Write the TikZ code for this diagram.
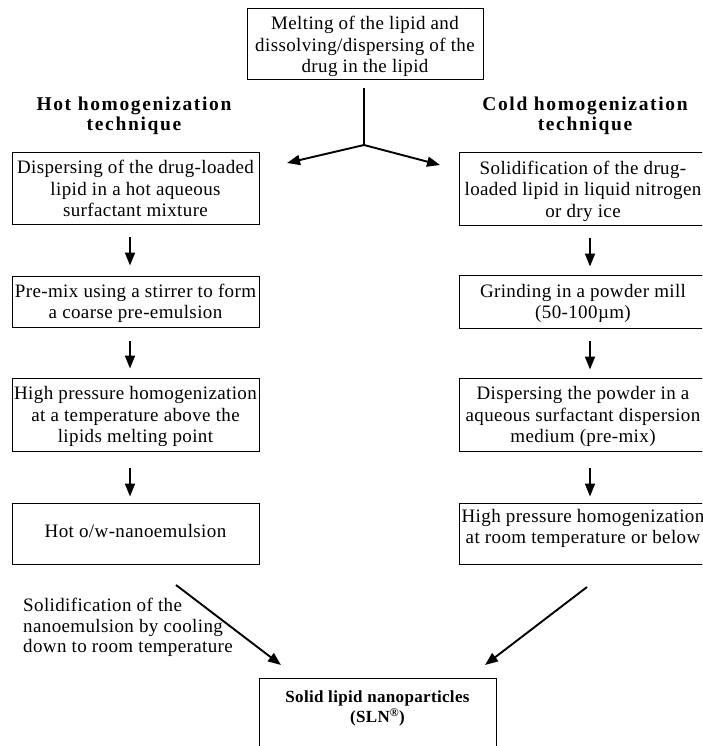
\documentclass[tikz,border=0pt]{standalone}
\usepackage{fontspec}
\setmainfont{Liberation Serif}[LetterSpace=2]
\newfontfamily\headfont{Liberation Serif}[LetterSpace=8.5]
\newfontfamily\slnfont{Liberation Serif}[LetterSpace=2]
\usetikzlibrary{arrows.meta}
\tikzset{
  stepbox/.style={draw, line width=1pt, align=center, inner sep=0pt, text depth=0pt,
    font=\fontsize{19}{21.5}\selectfont},
  arr/.style={line width=1.9pt, -{Triangle[length=13pt,width=10pt]}},
  heading/.style={align=center, inner sep=0pt, text depth=0pt,
    font=\headfont\bfseries\fontsize{19.5}{20}\selectfont},
}
\begin{document}
\begin{tikzpicture}[x=1pt,y=-1pt]
\useasboundingbox (0,0) rectangle (702,746);
\clip (0,0) rectangle (702,746);
% top
\node[stepbox, minimum width=236pt, minimum height=71pt] (top) at (365,44.5)
  {Melting of the lipid and\\dissolving/dispersing of the\\drug in the lipid};
\node[heading] (hhot) at (134,113.5) {Hot homogenization\\technique};
\node[heading] (hcold) at (585,113.5) {Cold homogenization\\technique};
% left column
\node[stepbox, minimum width=247pt, minimum height=71pt] (l1) at (135.5,188.5)
  {Dispersing of the drug-loaded\\lipid in a hot aqueous\\surfactant mixture};
\node[stepbox, minimum width=247pt, minimum height=51pt] (l2) at (135.5,301.5)
  {Pre-mix using a stirrer to form\\a coarse pre-emulsion};
\node[stepbox, minimum width=247pt, minimum height=73pt] (l3) at (135.5,414.5)
  {High pressure homogenization\\at a temperature above the\\lipids melting point};
\node[stepbox, minimum width=247pt, minimum height=61pt] (l4) at (135.5,533.5)
  {Hot o/w-nanoemulsion\\[-16pt]\mbox{}};
% right column
\node[stepbox, minimum width=248pt, minimum height=72pt] (r1) at (583,189)
  {Solidification of the drug-\\loaded lipid in liquid nitrogen\\or dry ice};
\node[stepbox, minimum width=248pt, minimum height=53pt] (r2) at (583,301.5)
  {Grinding in a powder mill\\(50-100\textmu m)};
\node[stepbox, minimum width=248pt, minimum height=73pt] (r3) at (583,414.5)
  {Dispersing the powder in a\\aqueous surfactant dispersion\\medium (pre-mix)};
\node[stepbox, minimum width=248pt, minimum height=61pt] (r4) at (583,533.5)
  {High pressure homogenization\\at room temperature or below\\[-7.5pt]\mbox{}};
% bottom
\node[stepbox, anchor=north, minimum width=237pt, inner ysep=12pt,
  font=\slnfont\bfseries\fontsize{17}{20}\selectfont] (sln) at (377.5,678)
  {Solid lipid nanoparticles\\(SLN\textsuperscript{\textregistered})\\[38pt]\mbox{}};
\node[align=left, anchor=north west, inner sep=0pt,
  font=\fontsize{19}{20.5}\selectfont] (lab) at (23,598)
  {Solidification of the\\nanoemulsion by cooling\\down to room temperature};
% connectors
\coordinate (j) at (364,145);
\coordinate (tl) at (287,163);
\coordinate (tr) at (440,165);
\draw[line width=1.9pt, shorten <=8pt] ([xshift=-1pt]top.south) -- (j);
\draw[arr] (j) -- (tl);
\draw[arr] (j) -- (tr);
\draw[arr, shorten <=12pt, shorten >=10pt] ([xshift=-5.5pt]l1.south) -- ([xshift=-5.5pt]l2.north);
\draw[arr, shorten <=13pt, shorten >=9pt] ([xshift=-5.5pt]l2.south) -- ([xshift=-5.5pt]l3.north);
\draw[arr, shorten <=16pt, shorten >=6pt] ([xshift=-5.5pt]l3.south) -- ([xshift=-5.5pt]l4.north);
\draw[arr, shorten <=12pt, shorten >=8pt] ([xshift=7pt]r1.south) -- ([xshift=7pt]r2.north);
\draw[arr, shorten <=12pt, shorten >=8pt] ([xshift=7pt]r2.south) -- ([xshift=7pt]r3.north);
\draw[arr, shorten <=16pt, shorten >=6pt] ([xshift=7pt]r3.south) -- ([xshift=7pt]r4.north);
\coordinate (d1s) at (176,585);
\coordinate (d1e) at (281,665);
\coordinate (d2s) at (587,587);
\coordinate (d2e) at (485,665);
\draw[arr] (d1s) -- (d1e);
\draw[arr] (d2s) -- (d2e);
\end{tikzpicture}
\end{document}
